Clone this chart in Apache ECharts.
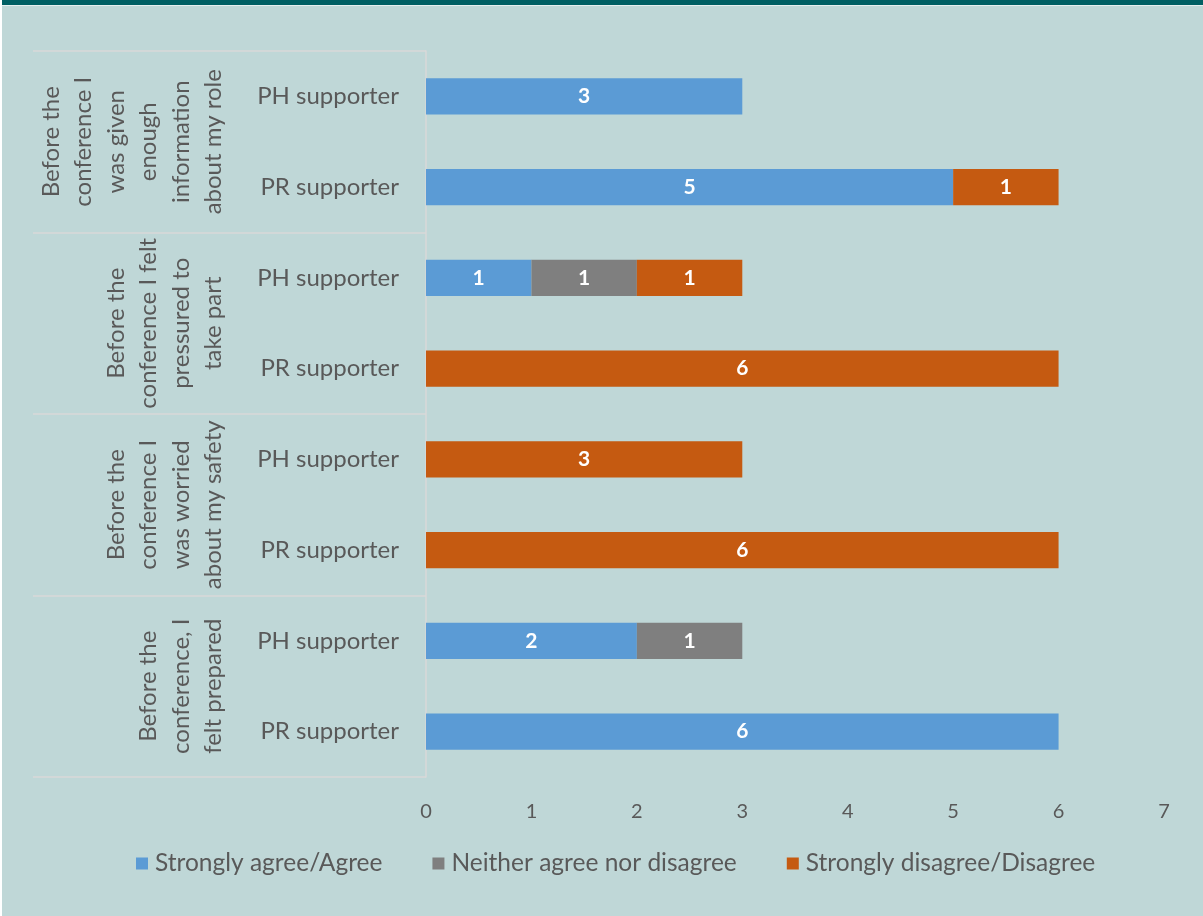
<!DOCTYPE html>
<html><head><meta charset="utf-8">
<script src="https://cdn.jsdelivr.net/npm/echarts@6/dist/echarts.min.js"></script>
<style>html,body{margin:0;padding:0;background:#fff}#c{width:1203px;height:916px}</style>
</head><body><div id="c"></div>
<script>
const groups = [
  'Before the\nconference I\nwas given\nenough\ninformation\nabout my role',
  'Before the\nconference I felt\npressured to\ntake part',
  'Before the\nconference I\nwas worried\nabout my safety',
  'Before the\nconference, I\nfelt prepared'
];
const categories = ['PH supporter','PR supporter','PH supporter','PR supporter','PH supporter','PR supporter','PH supporter','PR supporter'];
const seriesNames = ['Strongly agree/Agree','Neither agree nor disagree','Strongly disagree/Disagree'];
const agree    = [3,5,1,0,0,0,2,6];
const neither  = [0,0,1,0,0,0,1,0];
const disagree = [0,1,1,6,3,6,0,0];
const xTicks = [0,1,2,3,4,5,6,7];
const colors = ['#5B9BD5','#7F7F7F','#C55A11'];
const FONT = 'Lato';
const chart = echarts.init(document.getElementById('c'));
function mk(name, data, color){
  return {name, type:'bar', stack:'s', data, barWidth:'40%', itemStyle:{color},
    label:{show:true, color:'#fff', fontWeight:'bold', fontSize:21, fontFamily:FONT,
      formatter:p=>p.value?String(p.value):''}};
}
chart.setOption({
  backgroundColor:'#BFD7D7',
  animation:false,
  textStyle:{fontFamily:FONT},
  grid:{left:426,right:39,top:51,bottom:139},
  legend:{bottom:40,left:136,itemWidth:12,itemHeight:12,itemGap:50,icon:'rect',padding:0,
    textStyle:{fontSize:24.5,color:'#595959',fontFamily:FONT,padding:[0,0,0,2]},data:seriesNames},
  xAxis:{type:'value',min:0,max:7,interval:1,
    axisLine:{show:false},axisTick:{show:false},splitLine:{show:false},
    axisLabel:{fontSize:20,color:'#595959',margin:25,fontFamily:FONT,
      formatter:v=>xTicks.includes(v)?String(v):''}},
  yAxis:[{type:'category',data:categories,inverse:true,
    axisLine:{show:true,lineStyle:{color:'#D9D9D9',width:1.5}},axisTick:{show:false},
    axisLabel:{fontSize:24,color:'#595959',margin:27,fontFamily:FONT}},
   {type:'category',data:groups,inverse:true,position:'left',
    axisLine:{show:false},axisTick:{show:true,length:393,lineStyle:{color:'#D9D9D9',width:1.5}},
    axisLabel:{show:false}}],
  series:[mk(seriesNames[0],agree,colors[0]),mk(seriesNames[1],neither,colors[1]),mk(seriesNames[2],disagree,colors[2])]
});
const x0 = chart.convertToPixel({xAxisIndex:0},0);
const gfx = [
  {type:'rect',shape:{x:0,y:0,width:1203,height:5},style:{fill:'#005F63'}},
  {type:'rect',shape:{x:0,y:5,width:1203,height:1},style:{fill:'#E6EFEF'}},
  {type:'rect',shape:{x:0,y:0,width:2,height:916},style:{fill:'#ffffff'}}
];
groups.forEach((g,i)=>{
  const y1 = chart.convertToPixel({yAxisIndex:0},i*2);
  const y2 = chart.convertToPixel({yAxisIndex:0},i*2+1);
  gfx.push({type:'text',x:x0-196,y:(y1+y2)/2,rotation:Math.PI/2,
    style:{text:g,fontSize:24,fill:'#595959',fontFamily:FONT,align:'center',verticalAlign:'bottom',lineHeight:32.5}});
});
chart.setOption({graphic:gfx});
</script></body></html>
